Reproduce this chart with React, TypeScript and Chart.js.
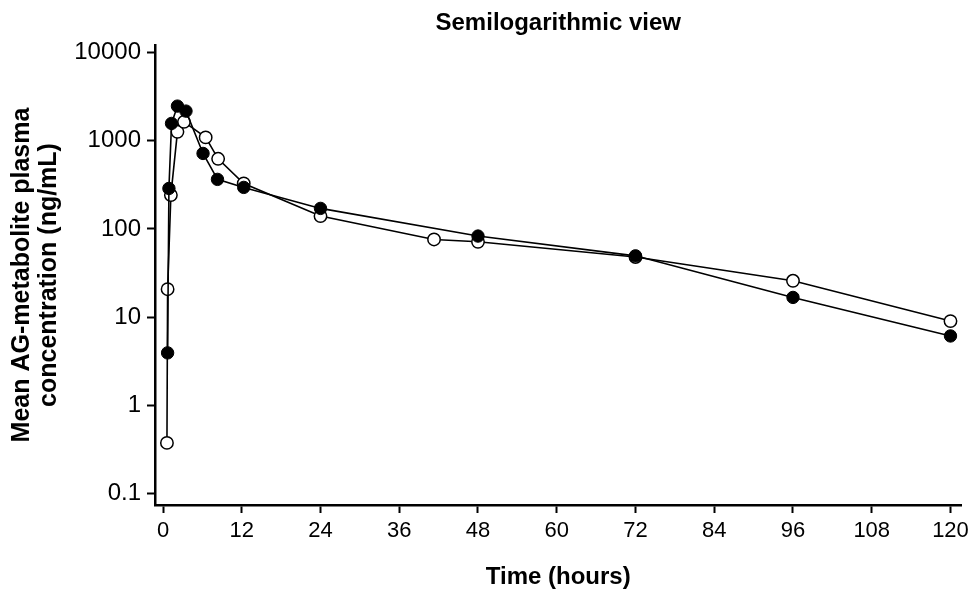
import React, { useEffect, useRef } from "react";
import { Chart, registerables } from "chart.js";

Chart.register(...registerables);

const filledTimes = [0.7, 0.9, 1.3, 2.2, 3.5, 6.1, 8.3, 12.3, 24, 48, 72, 96, 120];
const filledValues = [3.92, 288, 1575, 2477, 2174, 719, 365, 296, 171, 83, 49.5, 16.7, 6.1];

const openTimes = [0.6, 0.7, 1.2, 2.2, 3.2, 6.5, 8.4, 12.3, 24, 41.3, 48, 72, 96, 120];
const openValues = [0.373, 20.7, 242, 1265, 1643, 1093, 625, 328, 140, 76, 71.4, 48, 25.8, 9.0];

const xTicks = [0, 12, 24, 36, 48, 60, 72, 84, 96, 108, 120];
const yTicks = [0.1, 1, 10, 100, 1000, 10000];
const yTickLabels = ["0.1", "1", "10", "100", "1000", "10000"];

const chartTitle = "Semilogarithmic view";
const xTitle = "Time (hours)";
const yTitle = ["Mean AG-metabolite plasma", "concentration (ng/mL)"];

const FONT = "'Liberation Sans', Arial, Helvetica, sans-serif";

export default function App() {
  const ref = useRef<HTMLCanvasElement | null>(null);

  useEffect(() => {
    if (!ref.current) return;
    const titlePlugin = {
      id: "topTitle",
      afterDraw(chart: any) {
        const { ctx, chartArea } = chart;
        ctx.save();
        ctx.font = `bold 24px ${FONT}`;
        ctx.fillStyle = "#000";
        ctx.textAlign = "center";
        ctx.textBaseline = "middle";
        ctx.fillText(chartTitle, (chartArea.left + chartArea.right) / 2, 23);
        ctx.restore();
      },
    };
    const chart = new Chart(ref.current, {
      type: "line",
      data: {
        datasets: [
          {
            label: "filled",
            data: filledTimes.map((t, i) => ({ x: t, y: filledValues[i] })),
            borderColor: "#000",
            borderWidth: 1.6,
            backgroundColor: "#000",
            pointBackgroundColor: "#000",
            pointBorderColor: "#000",
            pointBorderWidth: 1,
            pointRadius: 6.2,
            tension: 0,
            fill: false,
          },
          {
            label: "open",
            data: openTimes.map((t, i) => ({ x: t, y: openValues[i] })),
            borderColor: "#000",
            borderWidth: 1.6,
            backgroundColor: "#fff",
            pointBackgroundColor: "#fff",
            pointBorderColor: "#000",
            pointBorderWidth: 1.5,
            pointRadius: 6.2,
            tension: 0,
            fill: false,
          },
        ],
      },
      options: {
        responsive: false,
        animation: false,
        layout: { padding: { left: 0, right: 12, top: 45, bottom: 0 } },
        plugins: {
          legend: { display: false },
          tooltip: { enabled: false },
          title: { display: false },
        },
        scales: {
          x: {
            type: "linear",
            min: -1.22,
            max: 121.67,
            afterBuildTicks: (scale: any) => {
              scale.ticks = xTicks.map((v) => ({ value: v }));
            },
            afterFit: (scale: any) => {
              scale.height = 85;
            },
            ticks: {
              color: "#000",
              font: { family: FONT, size: 22 },
              padding: 5,
              maxRotation: 0,
              autoSkip: false,
              callback: (v: any) => String(v),
            },
            grid: {
              drawOnChartArea: false,
              drawTicks: true,
              tickLength: 8,
              tickWidth: 2,
              color: "#000",
            },
            border: { display: true, color: "#000", width: 2.5 },
            title: {
              display: true,
              text: xTitle,
              color: "#000",
              font: { family: FONT, size: 24, weight: "bold", lineHeight: 1 },
              padding: { top: 0, bottom: 1 },
            },
          },
          y: {
            type: "logarithmic",
            min: 0.0736,
            max: 12230,
            afterBuildTicks: (scale: any) => {
              scale.ticks = yTicks.map((v) => ({ value: v }));
            },
            afterFit: (scale: any) => {
              scale.width = 155;
            },
            ticks: {
              color: "#000",
              font: { family: FONT, size: 24 },
              padding: 6,
              autoSkip: false,
              callback: (v: any) => {
                const i = yTicks.indexOf(Number(v));
                return i >= 0 ? yTickLabels[i] : "";
              },
            },
            grid: {
              drawOnChartArea: false,
              drawTicks: true,
              tickLength: 8,
              tickWidth: 2,
              color: "#000",
            },
            border: { display: true, color: "#000", width: 2.5 },
            title: {
              display: true,
              text: yTitle,
              color: "#000",
              font: { family: FONT, size: 25, weight: "bold", lineHeight: 1.1 },
              padding: { top: 8, bottom: 0 },
            },
          },
        },
      },
      plugins: [titlePlugin],
    });
    return () => chart.destroy();
  }, []);

  return (
    <div style={{ position: "absolute", left: 0, top: 0, width: 974, height: 590, background: "#fff" }}>
      <canvas ref={ref} width={974} height={590} style={{ display: "block" }} />
    </div>
  );
}
